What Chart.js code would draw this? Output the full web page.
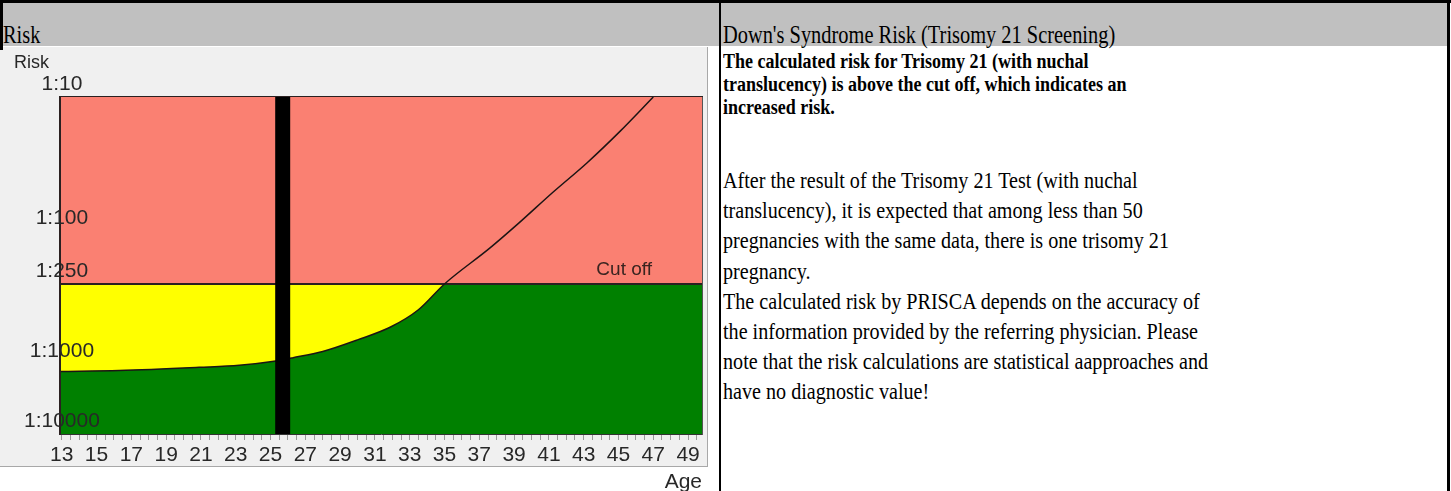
<!DOCTYPE html>
<html>
<head>
<meta charset="utf-8">
<script src="https://cdn.jsdelivr.net/npm/chart.js@4.4.1/dist/chart.umd.min.js"></script>
<style>
  body { margin: 0; width: 1451px; height: 491px; overflow: hidden; background: #fff; position: relative; font-family: "Liberation Serif", "Times New Roman", serif; color: #000; }
  .bar { position: absolute; background: #000; }
  #head { position: absolute; left: 3px; top: 3px; width: 1444px; height: 43px; background: #c0c0c0; }
  .htxt { position: absolute; top: 22px; font-size: 25.5px; line-height: 25.5px; white-space: nowrap; transform: scaleX(0.8); transform-origin: 0 0; }
  #frame { position: absolute; left: 0; top: 47px; width: 707px; height: 419px; background: #f0f0f0; border-right: 1px solid #a8a8a8; border-bottom: 1px solid #a8a8a8; }
  #wrap { position: absolute; left: 0; top: 47px; width: 715px; height: 460px; }
  .txt { position: absolute; left: 723px; white-space: nowrap; transform-origin: 0 0; }
  #p1 { top: 50px; font-size: 20px; line-height: 23px; font-weight: bold; transform: scaleX(0.9); }
  #p2 { top: 166px; font-size: 23px; line-height: 30.2px; transform: scaleX(0.875); }
</style>
</head>
<body>
<div id="head"></div>
<div class="htxt" style="left:3px">Risk</div>
<div class="htxt" style="left:723px">Down's Syndrome Risk (Trisomy 21 Screening)</div>
<div id="frame"></div>
<div id="wrap"><canvas id="riskChart" width="715" height="460"></canvas></div>
<div class="bar" style="left:0;top:0;width:1451px;height:3px"></div>
<div class="bar" style="left:0;top:0;width:3px;height:50px"></div>
<div class="bar" style="left:719px;top:0;width:2px;height:491px"></div>
<div class="bar" style="left:1447px;top:0;width:3px;height:491px"></div>
<div id="p1" class="txt">The calculated risk for Trisomy 21 (with nuchal<br>translucency) is above the cut off, which indicates an<br>increased risk.</div>
<div id="p2" class="txt">After the result of the Trisomy 21 Test (with nuchal<br>translucency), it is expected that among less than 50<br>pregnancies with the same data, there is one trisomy 21<br>pregnancy.<br>The calculated risk by PRISCA depends on the accuracy of<br>the information provided by the referring physician. Please<br>note that the risk calculations are statistical aapproaches and<br>have no diagnostic value!</div>
<script>
// risk curve (age in years, risk as 1:n)
const ages = [12.9, 16.3, 20.9, 23.2, 25.1, 26.3, 28, 30, 31.9, 33.5, 35, 37.6, 39.3, 41.2, 43.2, 45.1, 47];
const riskDenominators = [1260, 1220, 1100, 1030, 950, 890, 800, 655, 525, 390, 250, 135, 87, 52, 31, 18, 10];
const riskTicks = [10, 100, 250, 1000, 10000];
const riskTickLabels = ["1:10", "1:100", "1:250", "1:1000", "1:10000"];
const cutOff = 250;
const patientAge = 25.7;
const ageRange = [12.9, 49.8];
const ageLabelStart = 13;
const ageLabelEnd = 49;

const axisFont = { family: "'Liberation Sans', Arial, sans-serif", size: 21 };
const textColor = "#282828";

// the PRISCA axis is logarithmic up to 1:1000, the last decade is squeezed
function riskToAxis(den) {
  const l = Math.log10(den);
  return -(l <= 3 ? l : 3 + (l - 3) * 0.52);
}

const curve = ages.map((a, i) => ({ x: a, y: riskToAxis(riskDenominators[i]) }));
// green area keeps going to the right edge once the curve has left the top of the plot
const greenArea = curve.concat([{ x: ageRange[1], y: riskToAxis(riskTicks[0]) }]);
const flat = (den) => [{ x: ageRange[0], y: riskToAxis(den) }, { x: ageRange[1], y: riskToAxis(den) }];
const marker = [
  { x: patientAge, y: riskToAxis(riskTicks[0]) },
  { x: patientAge, y: riskToAxis(riskTicks[riskTicks.length - 1]) },
];

const cutOffLabel = {
  id: "cutOffLabel",
  afterDatasetsDraw(chart) {
    const { ctx, chartArea, scales } = chart;
    const y = scales.y.getPixelForValue(riskToAxis(cutOff));
    ctx.save();
    ctx.font = "19px 'Liberation Sans', Arial, sans-serif";
    ctx.fillStyle = "#3a2420";
    ctx.textAlign = "right";
    ctx.textBaseline = "middle";
    ctx.fillText("Cut off", chartArea.right - 50, y - 14);
    ctx.restore();
  },
};

const lineBase = { pointRadius: 0, cubicInterpolationMode: "monotone" };

// index 0 is painted last: yellow, then green under the curve, then red above the cut off
new Chart(document.getElementById("riskChart"), {
  type: "line",
  data: {
    datasets: [
      { ...lineBase, data: marker, borderColor: "#000", borderWidth: 15, borderCapStyle: "butt", fill: false },
      { ...lineBase, data: curve, borderColor: "#1c1414", borderWidth: 1.5, fill: false },
      { ...lineBase, data: flat(cutOff), borderColor: "#2a2020", borderWidth: 2, fill: false },
      { ...lineBase, data: flat(cutOff), borderWidth: 0, backgroundColor: "#fa8072", fill: "end" },
      { ...lineBase, data: greenArea, borderWidth: 0, backgroundColor: "#008000", fill: "start" },
      { ...lineBase, data: flat(cutOff), borderWidth: 0, backgroundColor: "#ffff00", fill: "start" },
    ],
  },
  options: {
    responsive: false,
    animation: false,
    devicePixelRatio: 1,
    layout: { padding: { left: 14, right: 13, top: 0, bottom: 0 } },
    plugins: {
      legend: { display: false },
      tooltip: { enabled: false },
      title: {
        display: true,
        text: "Risk",
        align: "start",
        color: textColor,
        font: { family: axisFont.family, size: 18, weight: "normal" },
        padding: { top: 5, bottom: 23.4 },
      },
    },
    scales: {
      x: {
        type: "linear",
        min: ageRange[0],
        max: ageRange[1],
        afterBuildTicks: (axis) => {
          const t = [];
          for (let v = ageLabelStart; v <= ageLabelEnd + 0.5; v += 0.5) t.push({ value: v });
          axis.ticks = t;
        },
        afterFit: (axis) => { axis.height = 73; },
        ticks: {
          autoSkip: false,
          maxRotation: 0,
          color: textColor,
          font: axisFont,
          padding: 3,
          callback: (v) => (Number.isInteger(v) && (v - ageLabelStart) % 2 === 0 ? String(v) : ""),
        },
        grid: { drawOnChartArea: false, tickLength: 6, color: "#9a9a9a" },
        border: { color: "#333", width: 1 },
        title: { display: true, text: "Age", align: "end", color: textColor, font: axisFont, padding: { top: 0, bottom: 12.4 } },
      },
      xTop: {
        type: "linear",
        position: "top",
        min: ageRange[0],
        max: ageRange[1],
        ticks: { display: false },
        grid: { display: false, drawTicks: false },
        border: { color: "#2a2020", width: 2 },
        afterFit: (axis) => { axis.height = 0; },
      },
      y: {
        type: "linear",
        min: riskToAxis(riskTicks[riskTicks.length - 1]),
        max: riskToAxis(riskTicks[0]),
        afterBuildTicks: (axis) => {
          axis.ticks = riskTicks.map((r) => ({ value: riskToAxis(r) })).reverse();
        },
        afterFit: (axis) => { axis.width = 46; },
        ticks: {
          z: 1,
          color: textColor,
          font: axisFont,
          mirror: true,
          crossAlign: "center",
          padding: -36,
          labelOffset: -13,
          callback: (v) => {
            const i = riskTicks.findIndex((r) => Math.abs(riskToAxis(r) - v) < 1e-9);
            return i >= 0 ? riskTickLabels[i] : "";
          },
        },
        grid: { display: false, drawTicks: false },
        border: { color: "#2a2020", width: 2, z: 1 },
      },
      yRight: {
        type: "linear",
        position: "right",
        min: riskToAxis(riskTicks[riskTicks.length - 1]),
        max: riskToAxis(riskTicks[0]),
        ticks: { display: false },
        grid: { display: false, drawTicks: false },
        border: { color: "#555", width: 1 },
        afterFit: (axis) => { axis.width = 0; },
      },
    },
  },
  plugins: [cutOffLabel],
});
</script>
</body>
</html>
